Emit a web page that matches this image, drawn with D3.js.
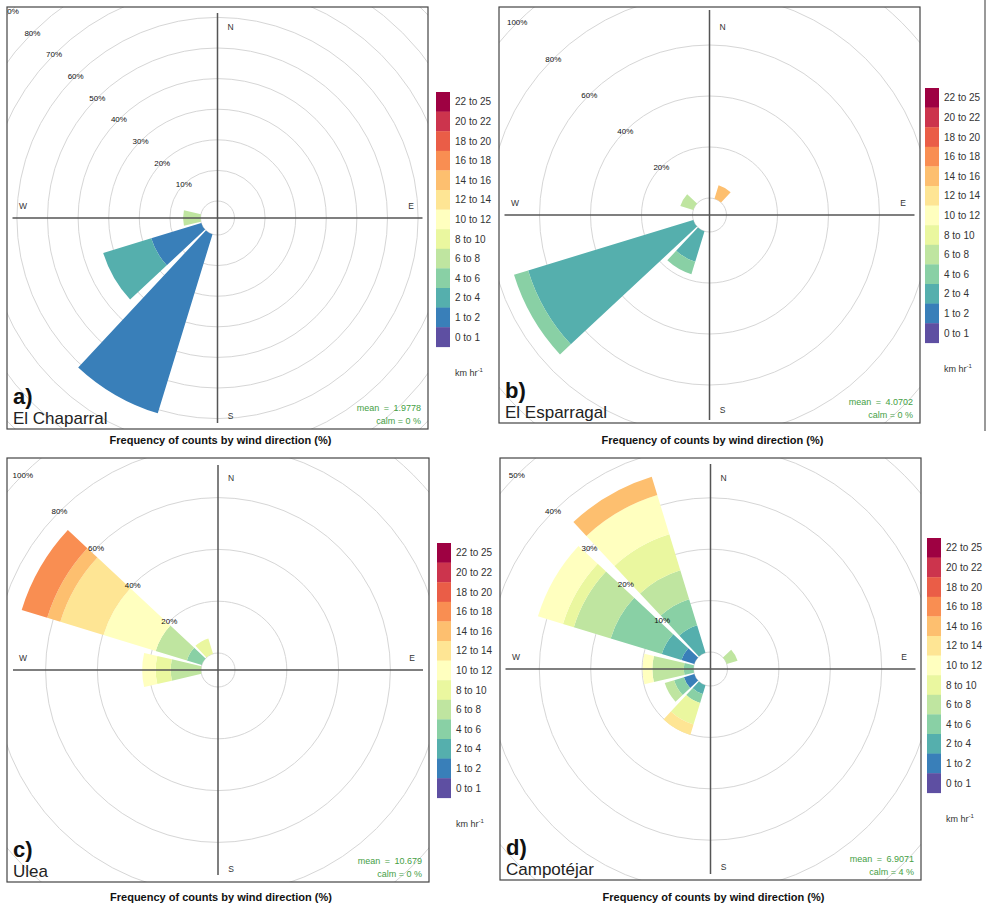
<!DOCTYPE html>
<html>
<head>
<meta charset="utf-8">
<script src="https://cdn.jsdelivr.net/npm/d3@7"></script>
<style>
  body { margin: 0; background: #fff; }
  text { font-family: "Liberation Sans", Arial, sans-serif; }
</style>
</head>
<body>
<svg id="chart" width="989" height="909"></svg>
<script>
// Wind roses for four sites (openair style), frequency of counts by direction

// Speed classes, lowest first
const speedBins = ["0 to 1", "1 to 2", "2 to 4", "4 to 6", "6 to 8", "8 to 10", "10 to 12",
                   "12 to 14", "14 to 16", "16 to 18", "18 to 20", "20 to 22", "22 to 25"];

// Each row: [direction (deg), speed class index, % of counts]
const chaparral = [
  [210, 1, 61.2],
  [240, 1, 17.1], [240, 2, 16.4],
  [270, 4, 5.7]
];
const esparragal = [
  [30, 8, 5.5],
  [210, 2, 12.5], [210, 3, 5.1],
  [240, 2, 67.7], [240, 3, 5.8],
  [300, 4, 5.3]
];
const ulea = [
  [270, 4, 11.7], [270, 5, 5.8], [270, 6, 5.2],
  [300, 3, 6.0], [300, 4, 12.6], [300, 6, 21.1], [300, 7, 17.4], [300, 8, 5.3], [300, 9, 10.3],
  [330, 5, 6.2]
];
const campotejar = [
  [60, 4, 2.2],
  [210, 2, 1.8], [210, 3, 1.8], [210, 5, 4.4], [210, 7, 2.1],
  [240, 1, 2.1], [240, 3, 2.0], [240, 4, 1.9],
  [270, 3, 1.9], [270, 4, 6.1], [270, 6, 1.9],
  [300, 1, 2.6], [300, 2, 4.0], [300, 3, 10.4], [300, 4, 7.5], [300, 5, 2.2], [300, 6, 5.1],
  [330, 2, 5.6], [330, 3, 5.3], [330, 4, 5.9], [330, 5, 7.3], [330, 6, 8.0], [330, 8, 3.7]
];

const sites = [chaparral, esparragal, ulea, campotejar];
const siteNames = ["El Chaparral", "El Esparragal", "Ulea", "Campotéjar"];
const panelTags = ["a)", "b)", "c)", "d)"];
const meanSpeed = ["1.9778", "4.0702", "10.679", "6.9071"];
const calmPct = ["0", "0", "0", "4"];
const gridStep = [10, 20, 20, 10];
const gridMax = [90, 100, 100, 50];

// Layout of each panel: frame box, px per %, legend position
const panels = [
  { x: 7,   y: 7,   w: 421, h: 422, k: 3.06, legX: 436, legY: 92 },
  { x: 499, y: 7,   w: 421, h: 416, k: 2.55, legX: 925, legY: 88 },
  { x: 7,   y: 458, w: 422, h: 424, k: 2.59, legX: 437, legY: 543 },
  { x: 500, y: 458, w: 421, h: 422, k: 5.14, legX: 927, legY: 538 }
];
const R0 = 17;          // radius of the inner (offset) circle
const HALFWIDTH = 13;   // half width of a direction bar, deg
const AXIS = 205;       // half length of the N-S / W-E axis lines
const captionY = [444, 444, 901, 901];

const svg = d3.select("#chart");

// openair "default" palette: reversed Spectral, 13 steps
const ramp = d3.piecewise(d3.interpolateRgb, d3.schemeSpectral[11].slice().reverse());
const binColours = speedBins.map((d, i) => ramp(i / (speedBins.length - 1)));

panels.forEach((p, i) => drawPanel(p, i));

// right edge of the top-right figure
svg.append("line")
  .attr("x1", 985).attr("x2", 985).attr("y1", 0).attr("y2", 431)
  .attr("stroke", "#555").attr("stroke-width", 1.2);

function drawPanel(p, i) {
  const cx = p.x + p.w / 2,
        cy = p.y + p.h / 2;

  const r = d3.scaleLinear().domain([0, gridMax[i]]).range([R0, R0 + gridMax[i] * p.k]);

  svg.append("clipPath").attr("id", "clip" + i)
    .append("rect").attr("x", p.x).attr("y", p.y).attr("width", p.w).attr("height", p.h);

  const plot = svg.append("g")
      .attr("clip-path", "url(#clip" + i + ")")
    .append("g")
      .attr("transform", "translate(" + cx + "," + cy + ")");

  // grid circles
  const rings = d3.range(gridStep[i], gridMax[i] + 2 * gridStep[i] + 1, gridStep[i]);
  plot.selectAll(".ring")
    .data([0].concat(rings))
    .enter().append("circle")
      .attr("r", d => r(d))
      .attr("fill", "none")
      .attr("stroke", "#d6d6d6")
      .attr("stroke-width", 1);

  // stacked bars
  const arc = d3.arc();
  const dirs = d3.groups(sites[i], d => d[0]);
  dirs.forEach(([dir, rows]) => {
    rows.sort((a, b) => a[1] - b[1]);
    let cum = 0;
    rows.forEach(row => {
      const start = cum;
      cum += row[2];
      plot.append("path")
        .attr("d", arc({
          innerRadius: r(start),
          outerRadius: r(cum),
          startAngle: (dir - HALFWIDTH) * Math.PI / 180,
          endAngle: (dir + HALFWIDTH) * Math.PI / 180
        }))
        .attr("fill", binColours[row[1]]);
    });
  });

  // axis lines
  plot.append("line").attr("x1", -AXIS).attr("x2", AXIS).attr("y1", 0).attr("y2", 0)
    .attr("stroke", "#555").attr("stroke-width", 1.5);
  plot.append("line").attr("x1", 0).attr("x2", 0).attr("y1", -AXIS).attr("y2", AXIS)
    .attr("stroke", "#555").attr("stroke-width", 1.5);

  // % labels along the NW diagonal
  plot.selectAll(".pct")
    .data(rings.filter(d => d <= gridMax[i]))
    .enter().append("text")
      .attr("x", d => -r(d) * Math.SQRT1_2)
      .attr("y", d => -r(d) * Math.SQRT1_2)
      .attr("dy", "0.35em")
      .attr("text-anchor", "middle")
      .attr("font-size", 8)
      .attr("fill", "#111")
      .text(d => d + "%");

  // compass letters
  const compass = [
    ["N", 13, -p.h / 2 + 20],
    ["S", 13, p.h / 2 - 13],
    ["W", -p.w / 2 + 16, -12],
    ["E", p.w / 2 - 17, -12]
  ];
  plot.selectAll(".cmp")
    .data(compass)
    .enter().append("text")
      .attr("x", d => d[1])
      .attr("y", d => d[2])
      .attr("dy", "0.35em")
      .attr("text-anchor", "middle")
      .attr("font-size", 8.5)
      .attr("fill", "#333")
      .text(d => d[0]);

  // frame
  svg.append("rect")
    .attr("x", p.x).attr("y", p.y).attr("width", p.w).attr("height", p.h)
    .attr("fill", "none").attr("stroke", "#444").attr("stroke-width", 1.2);

  // panel tag + site name
  svg.append("text")
    .attr("x", p.x + 6).attr("y", p.y + p.h - 25)
    .attr("font-size", 22).attr("font-weight", "bold").attr("fill", "#111")
    .text(panelTags[i]);
  svg.append("text")
    .attr("x", p.x + 6).attr("y", p.y + p.h - 5)
    .attr("font-size", 17).attr("fill", "#222")
    .text(siteNames[i]);

  // mean / calm
  svg.append("text")
    .attr("x", p.x + p.w - 7).attr("y", p.y + p.h - 18)
    .attr("text-anchor", "end").attr("font-size", 9).attr("fill", "#45a045")
    .attr("word-spacing", 2)
    .text("mean = " + meanSpeed[i]);
  svg.append("text")
    .attr("x", p.x + p.w - 7).attr("y", p.y + p.h - 5)
    .attr("text-anchor", "end").attr("font-size", 9).attr("fill", "#45a045")
    .text("calm = " + calmPct[i] + " %");

  // caption
  svg.append("text")
    .attr("x", p.x + p.w / 2 + 3).attr("y", captionY[i])
    .attr("text-anchor", "middle").attr("font-size", 11).attr("font-weight", "bold")
    .attr("fill", "#111")
    .text("Frequency of counts by wind direction (%)");

  // legend (top = fastest class)
  const boxH = 19.6;
  const leg = svg.append("g").attr("transform", "translate(" + p.legX + "," + p.legY + ")");
  const order = speedBins.map((d, j) => j).reverse();
  leg.selectAll("rect")
    .data(order)
    .enter().append("rect")
      .attr("x", 0)
      .attr("y", (d, j) => j * boxH)
      .attr("width", 14)
      .attr("height", boxH + 0.3)
      .attr("fill", d => binColours[d]);
  leg.selectAll("text")
    .data(order)
    .enter().append("text")
      .attr("x", 19)
      .attr("y", (d, j) => j * boxH + boxH / 2)
      .attr("dy", "0.35em")
      .attr("font-size", 10)
      .attr("fill", "#333")
      .text(d => speedBins[d]);
  const unit = leg.append("text")
    .attr("x", 19).attr("y", order.length * boxH + 29)
    .attr("font-size", 9).attr("fill", "#333");
  unit.append("tspan").text("km hr");
  unit.append("tspan").attr("dy", -4).attr("font-size", 6).text("-1");
}
</script>
</body>
</html>
